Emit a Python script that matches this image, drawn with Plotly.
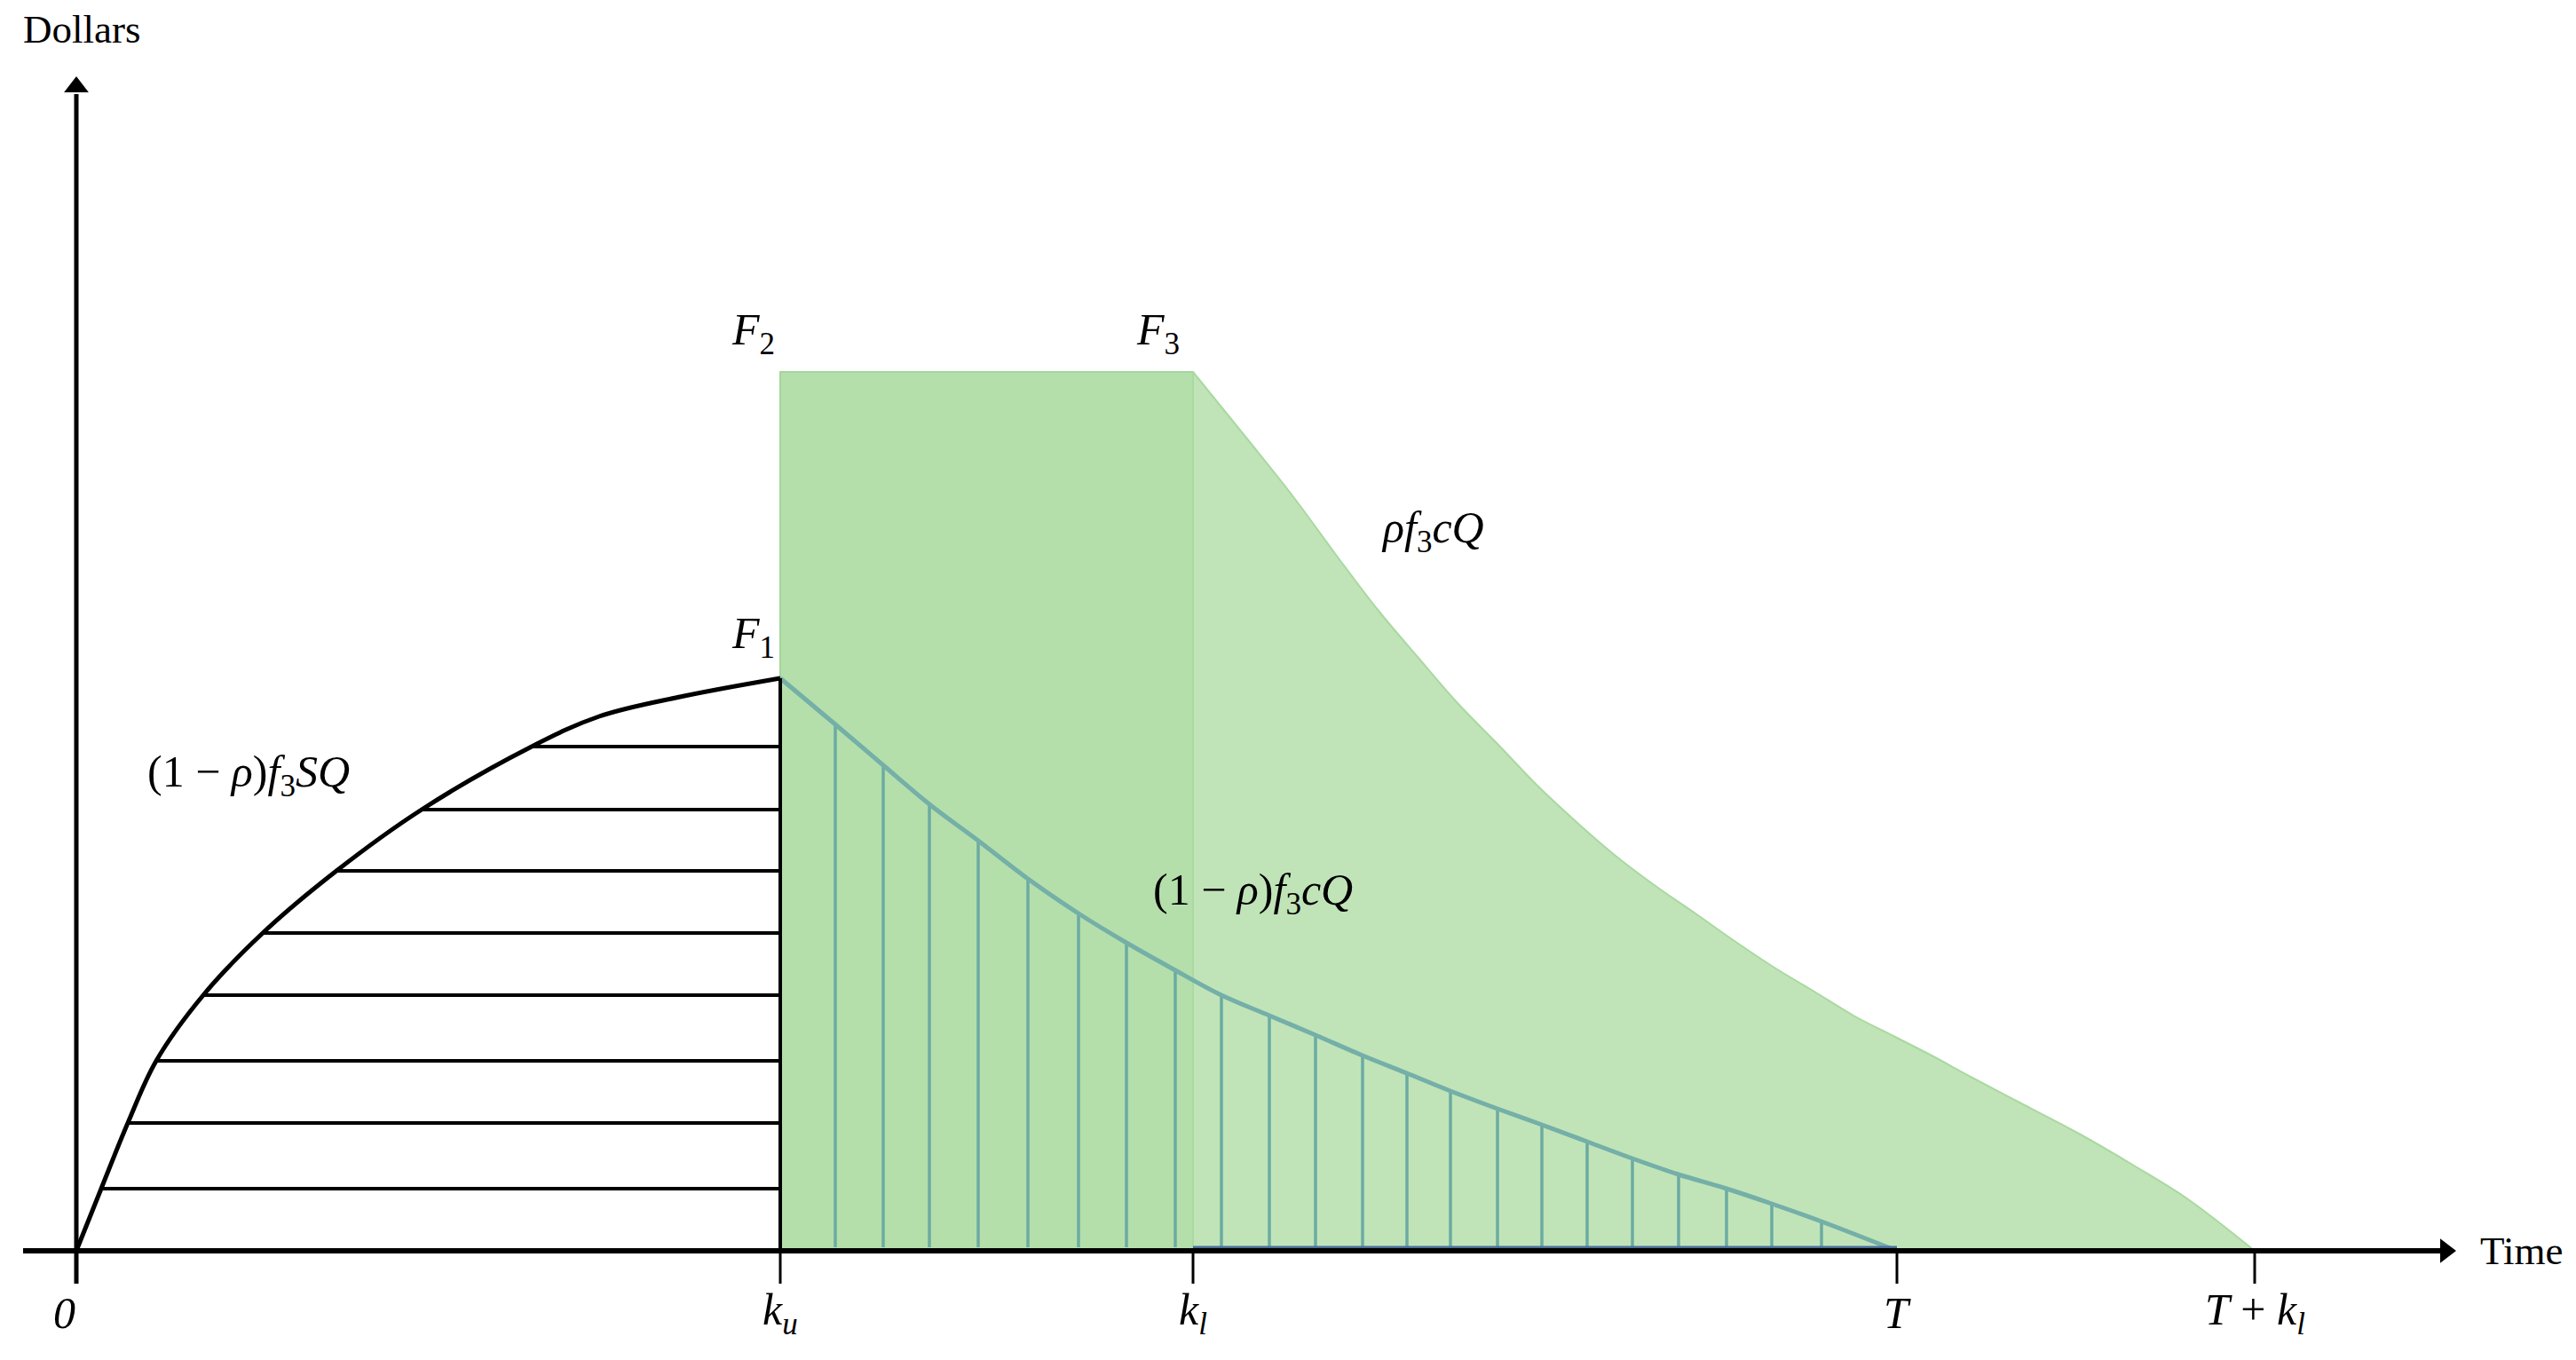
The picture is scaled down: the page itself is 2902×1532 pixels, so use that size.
import plotly.graph_objects as go

# ---------------------------------------------------------------------------
# Diagram values (x: time, y: dollars; arbitrary units)
# ---------------------------------------------------------------------------

K_U = 79.3
K_L = 125.8
T_END = 205.1
T_KL = 245.4
F1 = 64.5
F2 = 99.0

# (1 - rho) f3 S Q : rising curve from the origin to F1
S_X = [0, 2.8, 5.8, 9.0, 14.3, 21.0, 29.3, 38.9, 51.3, 58.9, 68.0, 79.3]
S_Y = [0, 7.0, 14.4, 21.4, 28.8, 35.8, 42.8, 49.7, 56.8, 60.2, 62.4, 64.5]
S_HATCH = [1, 2, 3, 4, 5, 6, 7, 8]  # indices of S points that carry a hatch row

# rho f3 c Q : falling curve from F3 to T + k_l
RHO_X = [125.8, 132.2, 137.2, 142.2, 146.7, 151.1, 155.6, 160.1, 164.5, 169.0,
         173.4, 177.9, 182.4, 186.8, 191.3, 195.8, 200.2, 204.7, 209.2, 213.4,
         219.5, 225.6, 231.8, 237.9, 245.4]
RHO_Y = [99.0, 91.1, 84.8, 78.0, 72.1, 66.9, 61.7, 57.1, 52.5, 48.3,
         44.5, 41.1, 38.0, 34.9, 31.9, 29.2, 26.5, 24.2, 21.9, 19.6,
         16.4, 13.2, 9.6, 5.8, 0]

# (1 - rho) f3 c Q : falling curve from F1 to T
LOW_X = [79.3, 85.5, 90.9, 96.1, 101.6, 107.2, 112.9, 118.3, 123.8, 129.0, 134.4,
         139.6, 144.9, 149.9, 154.8, 160.1, 165.1, 170.2, 175.3, 180.5, 185.9,
         191.0, 196.6, 205.1]
LOW_Y = [64.5, 59.3, 54.7, 50.3, 46.2, 41.9, 38.0, 34.7, 31.6, 28.8, 26.5,
         24.3, 22.0, 20.0, 18.0, 16.0, 14.2, 12.3, 10.4, 8.6, 7.0,
         5.3, 3.3, 0]

TICK_X = [0, K_U, K_L, T_END, T_KL]
TICK_LABELS = ["<i>0</i>", "<i>k</i><sub><i>u</i></sub>", "<i>k</i><sub><i>l</i></sub>",
               "<i>T</i>", "<i>T</i> + <i>k</i><sub><i>l</i></sub>"]

# ---------------------------------------------------------------------------
# Style tokens
# ---------------------------------------------------------------------------

COLORS = {
    "ink": "#000000",
    "rect": "#b4dfab",
    "rect_edge": "#a4d69a",
    "tail": "#c0e4b8",
    "tail_edge": "#a9d9a0",
    "hatch": "#6caba2",
    "low_line": "#74afa8",
    "base": "#4b6f9b",
}
FONT = "'Liberation Serif', 'DejaVu Serif', serif"

X_MIN, X_MAX = -7.8, 282.4
Y_MIN, Y_MAX = -13.1, 140.1
X_AXIS_START = -6.0
X_TIP = 268.1
Y_TIP = 132.3
TICK_LEN = 3.7

fig = go.Figure()

# Green rectangle k_u..k_l up to F2
fig.add_trace(go.Scatter(
    x=[K_U, K_U, K_L, K_L, K_U], y=[0, F2, F2, 0, 0],
    mode="lines", fill="toself", fillcolor=COLORS["rect"],
    line=dict(color=COLORS["rect_edge"], width=2), hoverinfo="skip",
))

# Lighter tail under rho f3 c Q (smooth edge, filled down to the time axis)
fig.add_trace(go.Scatter(
    x=RHO_X, y=RHO_Y, mode="lines", line_shape="spline", fill="tozeroy",
    fillcolor=COLORS["tail"], line=dict(color=COLORS["tail_edge"], width=2),
    hoverinfo="skip",
))
fig.add_trace(go.Scatter(x=[K_L, K_L], y=[0, F2], mode="lines",
                         line=dict(color=COLORS["tail_edge"], width=2), hoverinfo="skip"))

# Vertical hatching under (1 - rho) f3 c Q
hx, hy = [], []
for x, y in zip(LOW_X[1:-1], LOW_Y[1:-1]):
    hx += [x, x, None]
    hy += [0.4, y, None]
fig.add_trace(go.Scatter(x=hx, y=hy, mode="lines",
                         line=dict(color=COLORS["hatch"], width=3.5), hoverinfo="skip"))

fig.add_trace(go.Scatter(x=LOW_X, y=LOW_Y, mode="lines", line_shape="spline",
                         line=dict(color=COLORS["low_line"], width=5), hoverinfo="skip"))

# Blue strip along the time axis between k_l and T
fig.add_trace(go.Scatter(x=[K_L, T_END], y=[0.35, 0.35], mode="lines",
                         line=dict(color=COLORS["base"], width=4), hoverinfo="skip"))

# Horizontal hatching under (1 - rho) f3 S Q
sx, sy = [], []
for i in S_HATCH:
    sx += [S_X[i], K_U, None]
    sy += [S_Y[i], S_Y[i], None]
fig.add_trace(go.Scatter(x=sx, y=sy, mode="lines",
                         line=dict(color=COLORS["ink"], width=4), hoverinfo="skip"))

fig.add_trace(go.Scatter(x=S_X, y=S_Y, mode="lines", line_shape="spline",
                         line=dict(color=COLORS["ink"], width=5), hoverinfo="skip"))

fig.add_trace(go.Scatter(x=[K_U, K_U], y=[0, F1], mode="lines",
                         line=dict(color=COLORS["ink"], width=4), hoverinfo="skip"))

# Axes
fig.add_trace(go.Scatter(x=[X_AXIS_START, X_TIP - 1.5], y=[0, 0], mode="lines",
                         line=dict(color=COLORS["ink"], width=6), hoverinfo="skip"))
fig.add_trace(go.Scatter(x=[0, 0], y=[-TICK_LEN, Y_TIP - 2.0], mode="lines",
                         line=dict(color=COLORS["ink"], width=5), hoverinfo="skip"))
fig.add_trace(go.Scatter(x=[X_TIP - 1.2], y=[0], mode="markers",
                         marker=dict(symbol="triangle-right", size=24, color=COLORS["ink"]),
                         hoverinfo="skip"))
fig.add_trace(go.Scatter(x=[0], y=[Y_TIP - 1.2], mode="markers",
                         marker=dict(symbol="triangle-up", size=24, color=COLORS["ink"]),
                         hoverinfo="skip"))

tx, ty = [], []
for x in TICK_X[1:]:
    tx += [x, x, None]
    ty += [0, -TICK_LEN, None]
fig.add_trace(go.Scatter(x=tx, y=ty, mode="lines",
                         line=dict(color=COLORS["ink"], width=3), hoverinfo="skip"))

# ---------------------------------------------------------------------------
# Text
# ---------------------------------------------------------------------------

def label(x, y, text, size=50):
    return dict(x=x, y=y, xref="x", yref="y", text=text, showarrow=False,
                font=dict(family=FONT, size=size, color=COLORS["ink"]),
                xanchor="center", yanchor="middle")

tick_label_x = [-1.4, K_U, K_L, T_END, T_KL]
annotations = [label(x, -7.0, t) for x, t in zip(tick_label_x, TICK_LABELS)]
annotations += [
    dict(x=-6.2, y=137.6, xref="x", yref="y", text="Dollars", showarrow=False,
         font=dict(family=FONT, size=45, color=COLORS["ink"]),
         xanchor="left", yanchor="middle"),
    dict(x=270.6, y=0.0, xref="x", yref="y", text="Time", showarrow=False,
         font=dict(family=FONT, size=45, color=COLORS["ink"]),
         xanchor="left", yanchor="middle"),
    label(76.2, 103.4, "<i>F</i><sub>2</sub>"),
    label(121.8, 103.4, "<i>F</i><sub>3</sub>"),
    label(76.2, 69.2, "<i>F</i><sub>1</sub>"),
    label(152.8, 81.1, "<i>ρf</i><sub>3</sub><i>cQ</i>"),
    label(19.4, 53.6, "(1 − <i>ρ</i>)<i>f</i><sub>3</sub><i>SQ</i>"),
    label(132.5, 40.3, "(1 − <i>ρ</i>)<i>f</i><sub>3</sub><i>cQ</i>"),
]

fig.update_layout(
    width=2902,
    height=1532,
    margin=dict(l=0, r=0, t=0, b=0),
    paper_bgcolor="white",
    plot_bgcolor="white",
    showlegend=False,
    xaxis=dict(range=[X_MIN, X_MAX], visible=False, fixedrange=True),
    yaxis=dict(range=[Y_MIN, Y_MAX], visible=False, fixedrange=True),
    annotations=annotations,
)

fig.write_html("out.html")
